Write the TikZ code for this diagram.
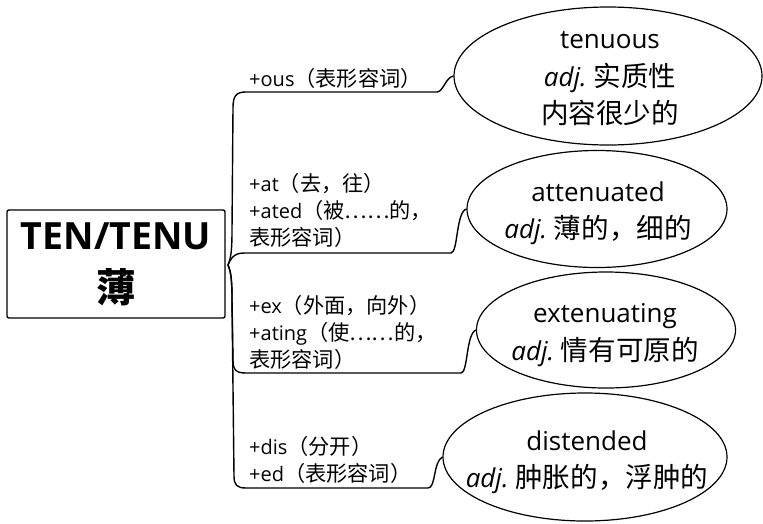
\documentclass[tikz,border=0pt]{standalone}
\usepackage{fontspec}
\setmainfont{Open Sans}
\newfontfamily\cjk[Scale=1.06]{Noto Sans CJK SC}
\usetikzlibrary{shapes.geometric}
\newcommand{\adjw}{{\itshape adj.}\ }
\newcommand{\zh}[1]{{\cjk #1}}
\tikzset{
  ell/.style={draw, line width=1.2pt, ellipse, inner sep=0pt},
  etxt/.style={align=center, inner sep=0pt, font=\fontsize{26}{37.5}\selectfont},
  lbl/.style={anchor=west, align=left, inner sep=0pt,
    font=\fontsize{20}{27}\selectfont},
  conn/.style={line width=1.4pt}
}
\begin{document}
\begin{tikzpicture}[x=1pt,y=-1pt]
\useasboundingbox (0,0) rectangle (763,523);
% root
\node[draw, line width=1.4pt, rounded corners=2pt, minimum width=218pt, minimum height=108pt,
  align=center, inner sep=0pt, font=\fontsize{37.5}{53}\selectfont\bfseries] (root) at (116,264)
  {TEN/TENU\\\zh{薄}};
\coordinate (hub) at (228,265);
% ellipses
\node[ell, minimum width=308pt, minimum height=138pt] (e1) at (608,76) {};
\node[ell, minimum width=260pt, minimum height=117pt] (e2) at (597,209) {};
\node[ell, minimum width=259pt, minimum height=116pt] (e3) at (606,330) {};
\node[ell, minimum width=284pt, minimum height=128pt] (e4) at (585,457) {};
\node[etxt] (t1) at (610,79) {tenuous\\\adjw\zh{实质性}\\\zh{内容很少的}};
\node[etxt] (t2) at (598,213) {attenuated\\\adjw\zh{薄的，细的}};
\node[etxt] (t3) at (605,335) {extenuating\\\adjw\zh{情有可原的}};
\node[etxt] (t4) at (587,462) {distended\\\adjw\zh{肿胀的，浮肿的}};
% labels
\node[lbl] (l1) at (249,78) {+ous\zh{（表形容词）}};
\node[lbl] (l2) at (249,210) {+at\zh{（去，往）}\\+ated\zh{（被……的，}\\\zh{表形容词）}};
\node[lbl] (l3) at (249,332) {+ex\zh{（外面，向外）}\\+ating\zh{（使……的，}\\\zh{表形容词）}};
\node[lbl] (l4) at (249,460) {+dis\zh{（分开）}\\+ed\zh{（表形容词）}};
% connectors
\draw[conn] (hub) .. controls (231,258) and (232,250) .. (232,230) -- (233,108)
  .. controls (233,96) and (236,92) .. (246,92) -- (437,92)
  .. controls (443,92) and (446,77) .. (e1.west);
\draw[conn] (hub) .. controls (230,260) and (233,253) .. (244,253) -- (451,253)
  .. controls (458,253) and (456,212) .. (e2.west);
\draw[conn] (hub) .. controls (231,272) and (232,280) .. (232,300) -- (233,360)
  .. controls (233,370) and (236,373) .. (246,373) -- (461,373)
  .. controls (468,373) and (466,334) .. (e3.west);
\draw[conn] (hub) .. controls (231,272) and (232,280) .. (232,300) -- (234,476)
  .. controls (234,485) and (237,488) .. (246,488) -- (428,488)
  .. controls (436,488) and (433,462) .. (e4.west);
\end{tikzpicture}
\end{document}
